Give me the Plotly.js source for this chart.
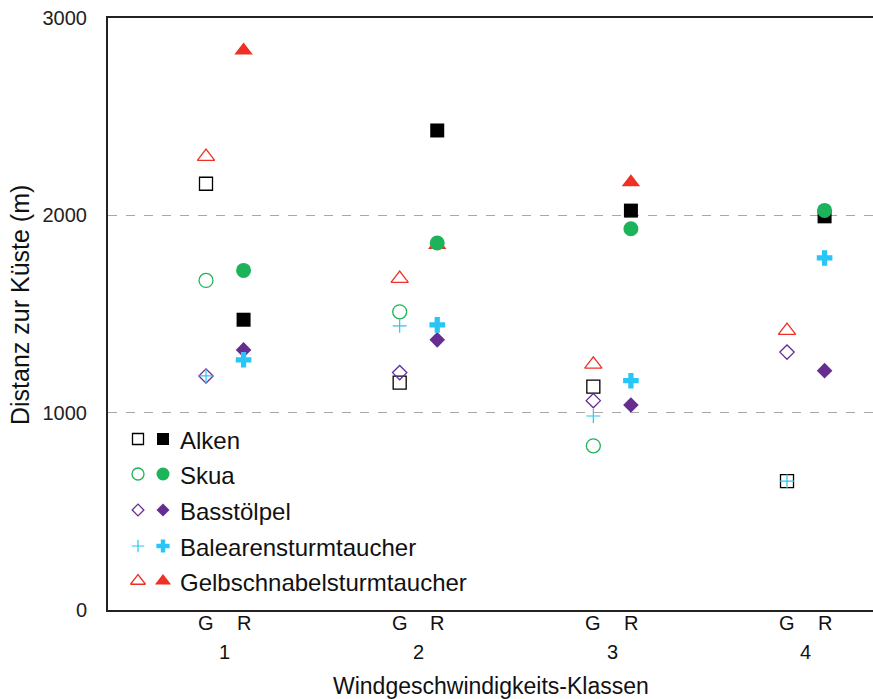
<!DOCTYPE html>
<html>
<head>
<meta charset="utf-8">
<script src="https://cdn.plot.ly/plotly-3.0.1.min.js"></script>
<style>html,body{margin:0;padding:0;background:#fff;}#chart{width:873px;height:699px;}</style>
</head>
<body>
<div id="chart"></div>
<script>
// Wind speed classes and sub-columns (G, R)
const windClasses = ['1', '2', '3', '4'];
const subLabels = ['G', 'R'];

// Distance to coast (m) per species, G and R per wind class
const alkenG = [2160, 1152, 1132, 653];
const alkenR = [1471, 2430, 2024, 1995];
const skuaG = [1670, 1511, 832, null];
const skuaR = [1721, 1860, 1932, 2025];
const basstoelpelG = [1186, 1203, 1061, 1307];
const basstoelpelR = [1318, 1369, 1039, 1213];
const balearenG = [1186, 1440, 983, 653];
const balearenR = [1268, 1445, 1162, 1784];
const gelbG = [2298, 1679, 1245, 1416];
const gelbR = [2835, 1850, 2168, null];

const speciesNames = ['Alken', 'Skua', 'Basstölpel', 'Balearensturmtaucher', 'Gelbschnabelsturmtaucher'];

const RED = '#EE3124', GREEN = '#1DB35A', PURPLE = '#662D91', CYAN = '#29C5F6', BLACK = '#000000';
const OFF = 0.097;
const base = windClasses.map((c, i) => i + 1);
const xG = base.map(v => v - OFF);
const xR = base.map(v => v + OFF);
const FONT = 'Liberation Sans, Arial, sans-serif';

function tr(x, y, symbol, size, color, filled, lw) {
  return {
    x: x, y: y, type: 'scatter', mode: 'markers', showlegend: false, hoverinfo: 'skip',
    marker: {
      symbol: symbol, size: size, color: color,
      line: {color: color, width: filled ? 0 : (lw || 1.3)}
    }
  };
}

const styles = {
  'Alken': {open: ['square-open', 13], fill: ['square', 14], color: BLACK, G: alkenG, R: alkenR},
  'Gelbschnabelsturmtaucher': {open: ['triangle-up-open', 15], fill: ['triangle-up', 16], color: RED, G: gelbG, R: gelbR},
  'Skua': {open: ['circle-open', 14], fill: ['circle', 15], color: GREEN, G: skuaG, R: skuaR},
  'Basstölpel': {open: ['diamond-open', 11], fill: ['diamond', 12], color: PURPLE, G: basstoelpelG, R: basstoelpelR},
  'Balearensturmtaucher': {open: ['cross-thin-open', 10], fill: ['cross', 13], color: CYAN, G: balearenG, R: balearenR}
};

const drawOrder = ['Alken', 'Gelbschnabelsturmtaucher', 'Skua', 'Basstölpel', 'Balearensturmtaucher'];
const traces = [];
drawOrder.forEach(n => {
  const s = styles[n];
  traces.push(tr(xG, s.G, s.open[0], s.open[1], s.color, false, n === 'Balearensturmtaucher' ? 1.2 : 1.3));
  traces.push(tr(xR, s.R, s.fill[0], s.fill[1], s.color, true));
});

// Custom legend (pixel-like coordinates on an overlay axis pair)
const legRows = [439, 474, 510, 546, 581];
const legAnn = [];
speciesNames.forEach((n, i) => {
  const s = styles[n];
  const lo = tr([138], [legRows[i]], s.open[0], Math.round(s.open[1] * 0.85), s.color, false, n === 'Balearensturmtaucher' ? 1.2 : 1.3);
  lo.xaxis = 'x2'; lo.yaxis = 'y2';
  const lf = tr([163], [legRows[i]], s.fill[0], Math.round(s.fill[1] * 0.85), s.color, true);
  lf.xaxis = 'x2'; lf.yaxis = 'y2';
  traces.push(lo, lf);
  legAnn.push({xref: 'x2', yref: 'y2', x: 178, y: legRows[i] + 1, text: n, showarrow: false,
    xanchor: 'left', yanchor: 'middle', font: {family: FONT, size: 24, color: '#111'}});
});

const groupAnn = windClasses.map((c, i) => ({
  xref: 'x', yref: 'paper', x: base[i], y: (610 - 652) / 592, text: c, showarrow: false,
  xanchor: 'center', yanchor: 'middle', font: {family: FONT, size: 20, color: '#111'}
}));
const subAnn = [];
base.forEach((b, i) => {
  [xG[i], xR[i]].forEach((xv, j) => subAnn.push({
    xref: 'x', yref: 'paper', x: xv, y: (610 - 623) / 592, text: subLabels[j], showarrow: false,
    xanchor: 'center', yanchor: 'middle', font: {family: FONT, size: 20, color: '#111'}
  }));
});

const layout = {
  width: 873, height: 699,
  margin: {l: 108, r: 0, t: 18, b: 89},
  paper_bgcolor: '#fff', plot_bgcolor: '#fff',
  font: {family: FONT, color: '#111'},
  showlegend: false,
  xaxis: {
    range: [0.397, 4.347], showgrid: false, zeroline: false,
    showline: true, mirror: true, linecolor: '#222', linewidth: 2,
    ticks: '', showticklabels: false, fixedrange: true
  },
  yaxis: {
    range: [0, 3000], dtick: 1000, tick0: 0,
    showgrid: true, gridcolor: '#A8A8A8', griddash: 'dash', gridwidth: 1,
    zeroline: false, showline: true, linecolor: '#222', linewidth: 2,
    ticks: '', tickfont: {family: FONT, size: 20, color: '#222'}, ticklabelstandoff: 15,
    fixedrange: true
  },
  xaxis2: {overlaying: 'x', range: [108, 873], visible: false, fixedrange: true},
  yaxis2: {overlaying: 'y', range: [610, 18], visible: false, fixedrange: true},
  annotations: [
    ...legAnn, ...groupAnn, ...subAnn,
    {xref: 'paper', yref: 'paper', x: 0.5, y: (610 - 686) / 592, text: 'Windgeschwindigkeits-Klassen', showarrow: false,
     xanchor: 'center', yanchor: 'middle', font: {family: FONT, size: 23, color: '#111'}},
    {xref: 'paper', yref: 'paper', x: -88 / 765, y: (610 - 305) / 592, text: 'Distanz zur Küste (m)', showarrow: false,
     textangle: -90, xanchor: 'center', yanchor: 'middle', font: {family: FONT, size: 25, color: '#111'}}
  ]
};

Plotly.newPlot('chart', traces, layout, {displayModeBar: false, staticPlot: true});
</script>
</body>
</html>
